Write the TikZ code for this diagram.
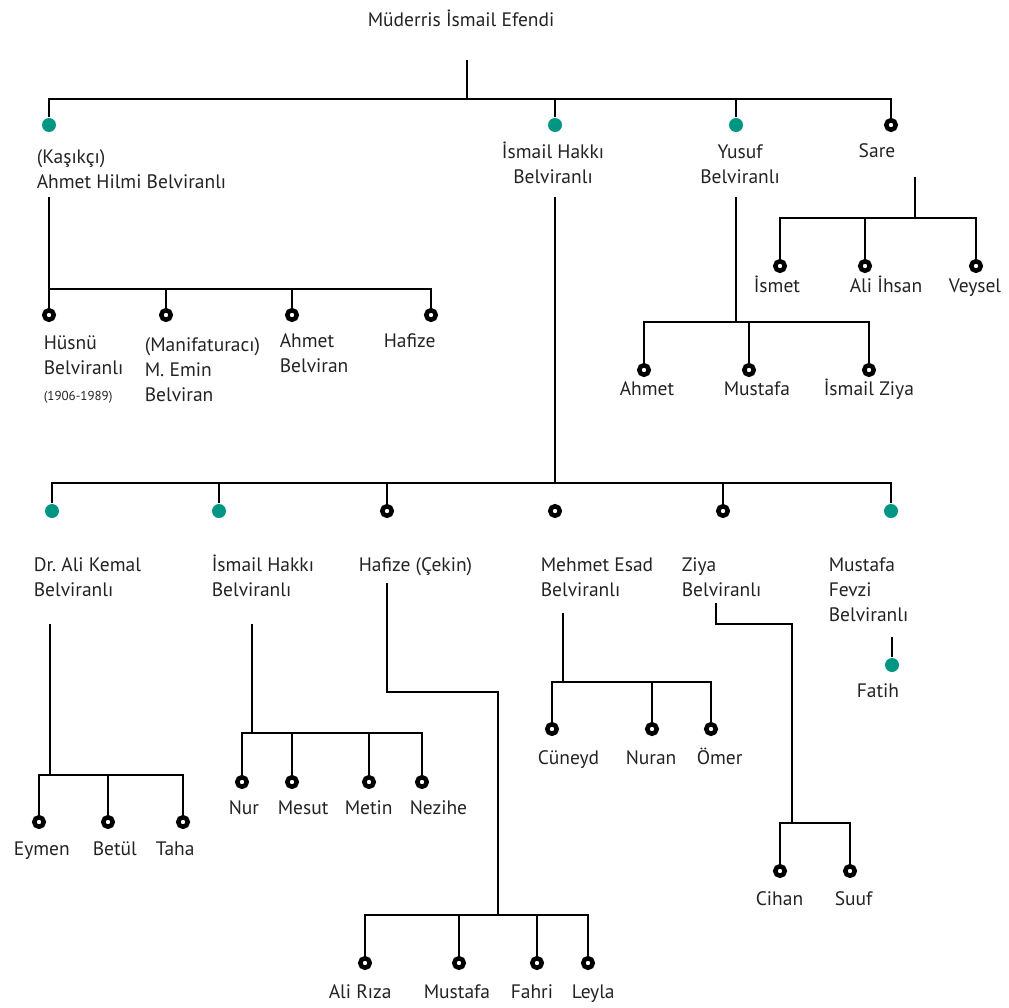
\documentclass[tikz,border=0pt]{standalone}
\usepackage{fontspec}
\setmainfont{PT Sans}
\usepackage{tikz}
\frenchspacing
\definecolor{kinteal}{RGB}{0,150,132}
\definecolor{kintext}{RGB}{35,35,35}

\begin{document}
\begin{tikzpicture}[x=1pt,y=-1pt,line width=1.6pt,
  kin node/.style={circle,fill=kinteal,draw=none,minimum size=14pt,inner sep=0pt},
  ring node/.style={circle,fill=white,draw=black,line width=4.5pt,minimum size=9.5pt,inner sep=0pt},
  name node/.style={anchor=base west,inner sep=0pt,align=left,text=kintext,font=\fontsize{19.5}{25}\selectfont},
  mid node/.style={name node,anchor=base,align=center}]
  \useasboundingbox (0,0) rectangle (1009,1007);

  \node[name node] (root-t) at (367,26) {Müderris İsmail Efendi};
  \coordinate (r0) at (467,60);
  \coordinate (r1) at (467,99);

  \node[kin node]  (hilmi) at (49,125) {};
  \node[kin node]  (hakki) at (555,125) {};
  \node[kin node]  (yusuf) at (736,125) {};
  \node[ring node] (sare)  at (891,125) {};
  \node[name node] (hilmi-t) at (36,188) {(Kaşıkçı)\\Ahmet Hilmi Belviranlı};
  \node[mid node]  (hakki-t) at (553,183) {İsmail Hakkı\\Belviranlı};
  \node[mid node]  (yusuf-t) at (740,183) {Yusuf\\Belviranlı};
  \node[mid node]  (sare-t)  at (877,157) {Sare};
  \draw (r0) -- (r1);
  \draw (hilmi) |- (r1) -| (sare);
  \path (hakki) edge (hakki |- r1)
        (yusuf) edge (yusuf |- r1);

  \node[ring node] (husnu)   at (49,315) {};
  \node[ring node] (emin)    at (166,315) {};
  \node[ring node] (ahmet)   at (292,315) {};
  \node[ring node] (hafize)  at (431,315) {};
  \node[name node] (husnu-t)  at (43,400) {Hüsnü\\Belviranlı\\[1pt]{\fontsize{13}{16}\selectfont(1906-1989)}};
  \node[name node] (emin-t)   at (144,401) {(Manifaturacı)\\M. Emin\\Belviran};
  \node[name node] (ahmet-t)  at (279,372) {Ahmet\\Belviran};
  \node[name node] (hafize-t) at (383,347) {Hafize};
  \coordinate (h0) at (49,197);
  \coordinate (h1) at (49,289);
  \draw (h0) -- (h1);
  \draw (husnu) |- (h1) -| (hafize);
  \path (emin) edge (emin |- h1)
        (ahmet) edge (ahmet |- h1);

  \node[ring node] (ismet)  at (780,266) {};
  \node[ring node] (ihsan)  at (865,266) {};
  \node[ring node] (veysel) at (976,266) {};
  \node[name node] (ismet-t)  at (753,292) {İsmet};
  \node[name node] (ihsan-t)  at (849,292) {Ali İhsan};
  \node[name node] (veysel-t) at (948,292) {Veysel};
  \coordinate (s0) at (915,177);
  \coordinate (s1) at (915,218);
  \draw (s0) -- (s1);
  \draw (ismet) |- (s1) -| (veysel);
  \path (ihsan) edge (ihsan |- s1);

  \node[ring node] (ahmet2)   at (644,370) {};
  \node[ring node] (mustafa1) at (749,370) {};
  \node[ring node] (ziya1)    at (869,370) {};
  \node[name node] (ahmet2-t)   at (619,395) {Ahmet};
  \node[name node] (mustafa1-t) at (723,395) {Mustafa};
  \node[name node] (ziya1-t)    at (823,395) {İsmail Ziya};
  \coordinate (y0) at (736,197);
  \coordinate (y1) at (736,322);
  \draw (y0) -- (y1);
  \draw (ahmet2) |- (y1) -| (ziya1);
  \path (mustafa1) edge (mustafa1 |- y1);

  \coordinate (k0) at (555,197);
  \coordinate (k1) at (555,483);
  \node[kin node]  (kemal)   at (52,511) {};
  \node[kin node]  (hakki2)  at (219,511) {};
  \node[ring node] (hafize2) at (387,511) {};
  \node[ring node] (esad)    at (555,511) {};
  \node[ring node] (ziya2)   at (723,511) {};
  \node[kin node]  (fevzi)   at (891,511) {};
  \node[name node] (kemal-t)   at (33,596) {Dr. Ali Kemal\\Belviranlı};
  \node[name node] (hakki2-t)  at (211,596) {İsmail Hakkı\\Belviranlı};
  \node[name node] (hafize2-t) at (358,571) {Hafize (Çekin)};
  \node[name node] (esad-t)    at (540,596) {Mehmet Esad\\Belviranlı};
  \node[name node] (ziya2-t)   at (681,596) {Ziya\\Belviranlı};
  \node[name node] (fevzi-t)   at (828,621) {Mustafa\\Fevzi\\Belviranlı};
  \draw (k0) -- (k1);
  \draw (kemal) |- (k1) -| (fevzi);
  \path (hakki2) edge (hakki2 |- k1)
        (hafize2) edge (hafize2 |- k1)
        (ziya2) edge (ziya2 |- k1);

  \node[ring node] (eymen) at (39,822) {};
  \node[ring node] (betul) at (108,822) {};
  \node[ring node] (taha)  at (183,822) {};
  \node[name node] (eymen-t) at (13,855) {Eymen};
  \node[name node] (betul-t) at (92,855) {Betül};
  \node[name node] (taha-t)  at (155,855) {Taha};
  \coordinate (e0) at (50,624);
  \coordinate (e1) at (50,775);
  \draw (e0) -- (e1);
  \draw (eymen) |- (e1) -| (taha);
  \path (betul) edge (betul |- e1);

  \node[ring node] (nur)    at (242,782) {};
  \node[ring node] (mesut)  at (292,782) {};
  \node[ring node] (metin)  at (369,782) {};
  \node[ring node] (nezihe) at (422,782) {};
  \node[name node] (nur-t)    at (228,814) {Nur};
  \node[name node] (mesut-t)  at (277,814) {Mesut};
  \node[name node] (metin-t)  at (344,814) {Metin};
  \node[name node] (nezihe-t) at (409,814) {Nezihe};
  \coordinate (n0) at (252,624);
  \coordinate (n1) at (252,733);
  \draw (n0) -- (n1);
  \draw (nur) |- (n1) -| (nezihe);
  \path (mesut) edge (mesut |- n1)
        (metin) edge (metin |- n1);

  \node[ring node] (riza)     at (365,963) {};
  \node[ring node] (mustafa2) at (459,963) {};
  \node[ring node] (fahri)    at (537,963) {};
  \node[ring node] (leyla)    at (588,963) {};
  \node[name node] (riza-t)     at (328,998) {Ali Rıza};
  \node[name node] (mustafa2-t) at (423,998) {Mustafa};
  \node[name node] (fahri-t)    at (510,998) {Fahri};
  \node[name node] (leyla-t)    at (571,998) {Leyla};
  \coordinate (f0) at (387,583);
  \coordinate (f1) at (498,692);
  \coordinate (f2) at (498,915);
  \draw (f0) |- (f1) -- (f2);
  \draw (riza) |- (f2) -| (leyla);
  \path (mustafa2) edge (mustafa2 |- f2)
        (fahri) edge (fahri |- f2);

  \node[ring node] (cuneyd) at (552,729) {};
  \node[ring node] (nuran)  at (652,729) {};
  \node[ring node] (omer)   at (711,729) {};
  \node[name node] (cuneyd-t) at (537,764) {Cüneyd};
  \node[name node] (nuran-t)  at (625,764) {Nuran};
  \node[name node] (omer-t)   at (696,764) {Ömer};
  \coordinate (m0) at (563,613);
  \coordinate (m1) at (563,682);
  \draw (m0) -- (m1);
  \draw (cuneyd) |- (m1) -| (omer);
  \path (nuran) edge (nuran |- m1);

  \node[ring node] (cihan) at (780,871) {};
  \node[ring node] (suuf)  at (850,871) {};
  \node[name node] (cihan-t) at (755,905) {Cihan};
  \node[name node] (suuf-t)  at (834,905) {Suuf};
  \coordinate (z0) at (716,603);
  \coordinate (z1) at (792,624);
  \coordinate (z2) at (792,823);
  \draw (z0) |- (z1) -- (z2);
  \draw (cihan) |- (z2) -| (suuf);

  \node[kin node]  (fatih)   at (892,665) {};
  \node[name node] (fatih-t) at (856,697) {Fatih};
  \coordinate (t0) at (892,637);
  \draw (t0) -- (fatih);
\end{tikzpicture}
\end{document}
